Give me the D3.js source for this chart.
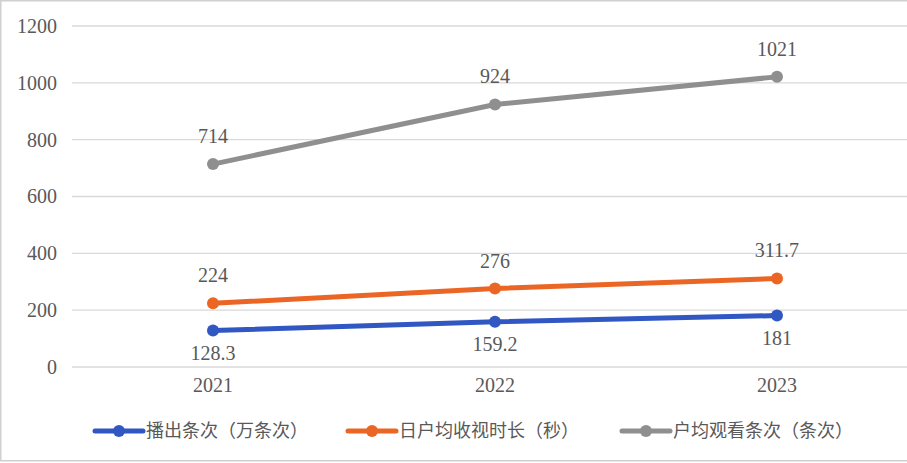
<!DOCTYPE html>
<html><head><meta charset="utf-8">
<script src="https://cdn.jsdelivr.net/npm/d3@7"></script>
<style>
html,body{margin:0;padding:0;background:#fff;}
svg{display:block;}
</style></head>
<body>
<svg id="chart" width="907" height="463"></svg>
<script>
const years = ["2021", "2022", "2023"];
const seriesNames = ["播出条次（万条次）", "日户均收视时长（秒）", "户均观看条次（条次）"];
const broadcasts = [128.3, 159.2, 181];
const dailyDuration = [224, 276, 311.7];
const viewCounts = [714, 924, 1021];
const yTicks = [0, 200, 400, 600, 800, 1000, 1200];
const colors = ["#3057C2", "#EB6624", "#8F8F8F"];
const labelPos = ["below", "above", "above"];

const series = [broadcasts, dailyDuration, viewCounts].map((v, i) => ({
  name: seriesNames[i], values: v, color: colors[i], pos: labelPos[i]
}));

const W = 907, H = 463;
const svg = d3.select("#chart");
const numFont = "'Liberation Serif', 'DejaVu Serif', serif";
const cjkFont = "'Noto Sans CJK SC', sans-serif";
const textColor = "#595959";

// outer border
svg.append("rect").attr("x", 0.75).attr("y", 0.75).attr("width", W + 10).attr("height", H - 3)
  .attr("fill", "none").attr("stroke", "#d0d0d0").attr("stroke-width", 1.5);

const x = d3.scaleBand().domain(years).range([72, 918]);
const y = d3.scaleLinear().domain([0, 1200]).range([367, 26]);

// grid
svg.append("g").selectAll("line").data(yTicks).join("line")
  .attr("x1", 72).attr("x2", W).attr("y1", d => y(d)).attr("y2", d => y(d))
  .attr("stroke", "#d9d9d9").attr("stroke-width", 1.3);

// y axis
const yAxis = svg.append("g").attr("transform", "translate(57,0)")
  .call(d3.axisLeft(y).tickValues(yTicks).tickFormat(d3.format("d")).tickSize(0).tickPadding(0));
yAxis.select(".domain").remove();
yAxis.selectAll("text").attr("font-family", numFont).attr("font-size", 20).attr("fill", textColor);

// x axis
const xAxis = svg.append("g").attr("transform", "translate(0,378)")
  .call(d3.axisBottom(x).tickSize(0).tickPadding(0));
xAxis.select(".domain").remove();
xAxis.selectAll("text").attr("font-family", numFont).attr("font-size", 20).attr("fill", textColor);

const cx = d => x(d) + x.bandwidth() / 2;
const line = d3.line().x((d, i) => cx(years[i])).y(d => y(d));

series.forEach(s => {
  const g = svg.append("g");
  g.append("path").datum(s.values).attr("d", line)
    .attr("fill", "none").attr("stroke", s.color).attr("stroke-width", 5).attr("stroke-linecap", "round");
  g.selectAll("circle").data(s.values).join("circle")
    .attr("cx", (d, i) => cx(years[i])).attr("cy", d => y(d)).attr("r", 6).attr("fill", s.color);
  g.selectAll("text").data(s.values).join("text")
    .attr("x", (d, i) => cx(years[i]))
    .attr("y", d => s.pos === "above" ? y(d) - 28 : y(d) + 22)
    .attr("dy", "0.35em")
    .attr("text-anchor", "middle")
    .attr("font-family", numFont).attr("font-size", 20).attr("fill", textColor)
    .text(d => d);
});

// legend
const legendX = [95, 348, 622];
series.forEach((s, i) => {
  const g = svg.append("g").attr("transform", `translate(${legendX[i]},431)`);
  g.append("line").attr("x1", 0).attr("x2", 48).attr("y1", 0).attr("y2", 0)
    .attr("stroke", s.color).attr("stroke-width", 5).attr("stroke-linecap", "round");
  g.append("circle").attr("cx", 24).attr("cy", 0).attr("r", 6).attr("fill", s.color);
  g.append("text").attr("x", 51).attr("y", 0).attr("dy", "0.35em")
    .attr("font-family", cjkFont).attr("font-size", 18).attr("fill", textColor)
    .text(s.name);
});
</script>
</body></html>
